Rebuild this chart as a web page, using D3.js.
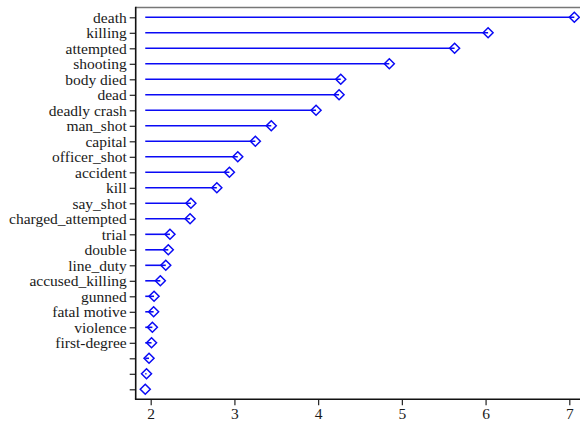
<!DOCTYPE html>
<html>
<head>
<meta charset="utf-8">
<script src="https://cdn.jsdelivr.net/npm/d3@7"></script>
<style>
  html, body { margin: 0; padding: 0; background: #fff; }
  svg { display: block; }
</style>
</head>
<body>
<svg id="chart" width="580" height="425"></svg>
<script>
const categories = ["death", "killing", "attempted", "shooting", "body died", "dead",
  "deadly crash", "man_shot", "capital", "officer_shot", "accident", "kill",
  "say_shot", "charged_attempted", "trial", "double", "line_duty", "accused_killing",
  "gunned", "fatal motive", "violence", "first-degree", "", "", ""];
const values = [7.06, 6.03, 5.63, 4.85, 4.27, 4.25, 3.975, 3.44, 3.25, 3.04, 2.94, 2.79,
  2.48, 2.47, 2.23, 2.21, 2.18, 2.115, 2.04, 2.035, 2.02, 2.01, 1.98, 1.95, 1.935];
const xTicks = [2, 3, 4, 5, 6, 7];

const data = categories.map((c, i) => ({ i, label: c, value: values[i] }));

const svg = d3.select("#chart");
const mLeft = 135.7, mRight = 580, mTop = 7.5, mBottom = 399.3;
const serif = "Liberation Serif, Times New Roman, Times, DejaVu Serif, serif";

const x = d3.scaleLinear().domain([2, 7]).range([150.7, 569.3]);
const y = d3.scalePoint().domain(data.map(d => d.i)).range([17.3, 389.3]);
const baseline = d3.min(values);

// frame: top gray line
svg.append("line").attr("x1", mLeft).attr("x2", mRight).attr("y1", mTop).attr("y2", mTop)
  .attr("stroke", "#777").attr("stroke-width", 1.5);

// stems
const blue = "#0a0af5";
svg.append("g").selectAll("line").data(data).join("line")
  .attr("x1", x(baseline)).attr("x2", d => x(d.value))
  .attr("y1", d => y(d.i)).attr("y2", d => y(d.i))
  .attr("stroke", blue).attr("stroke-width", 1.6);

// diamonds
svg.append("g").selectAll("path").data(data).join("path")
  .attr("transform", d => `translate(${x(d.value)},${y(d.i)})`)
  .attr("d", "M0,-5L5,0L0,5L-5,0Z")
  .attr("fill", "none").attr("stroke", blue).attr("stroke-width", 1.5);

// y axis
const yAxis = d3.axisLeft(y).tickSize(6).tickPadding(3).tickFormat(i => categories[i]);
const gy = svg.append("g").attr("transform", `translate(${mLeft},0)`).call(yAxis);
gy.select(".domain").remove();
gy.selectAll(".tick line").attr("stroke", "#222").attr("stroke-width", 1.2);
gy.selectAll(".tick text").attr("fill", "#1a1a1a")
  .style("font-family", serif).style("font-size", "15.5px");
svg.append("line").attr("x1", mLeft).attr("x2", mLeft).attr("y1", mTop - 0.75).attr("y2", mBottom)
  .attr("stroke", "#111").attr("stroke-width", 1.6);

// x axis
const xAxis = d3.axisBottom(x).tickValues(xTicks).tickSize(6).tickPadding(3).tickFormat(d3.format("d"));
const gx = svg.append("g").attr("transform", `translate(0,${mBottom})`).call(xAxis);
gx.select(".domain").remove();
gx.selectAll(".tick line").attr("stroke", "#222").attr("stroke-width", 1.2);
gx.selectAll(".tick text").attr("fill", "#1a1a1a")
  .style("font-family", serif).style("font-size", "15.5px");
svg.append("line").attr("x1", mLeft - 0.8).attr("x2", mRight).attr("y1", mBottom).attr("y2", mBottom)
  .attr("stroke", "#111").attr("stroke-width", 1.6);
</script>
</body>
</html>
